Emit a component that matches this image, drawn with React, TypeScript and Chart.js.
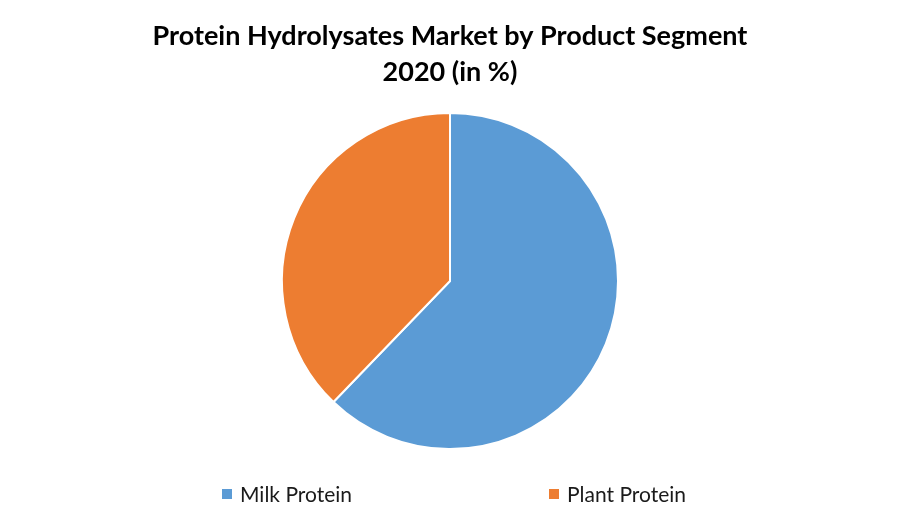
import React, { useEffect, useRef } from "react";
import { Chart, registerables } from "chart.js";

Chart.register(...registerables);

const titleLines = ["Protein Hydrolysates Market by Product Segment", "2020 (in %)"];
const categories = ["Milk Protein", "Plant Protein"];
const shares = [62.2, 37.8];
const colors = ["#5B9BD5", "#ED7D31"];

const FONT = "Lato, 'Open Sans', 'Liberation Sans', sans-serif";

export default function App() {
  const ref = useRef<HTMLCanvasElement | null>(null);

  useEffect(() => {
    if (!ref.current) return;
    const chart = new Chart(ref.current, {
      type: "pie",
      data: {
        labels: categories,
        datasets: [
          {
            data: shares,
            backgroundColor: colors,
            borderColor: "#ffffff",
            borderWidth: 2,
            hoverOffset: 0,
          },
        ],
      },
      options: {
        animation: false,
        responsive: false,
        events: [],
        layout: { padding: { top: 0, bottom: 75, left: 0, right: 0 } },
        plugins: {
          legend: { display: false },
          tooltip: { enabled: false },
          title: {
            display: true,
            text: titleLines,
            color: "#000000",
            font: { family: FONT, size: 27, weight: "bold", lineHeight: 1.333 },
            padding: { top: 18, bottom: 22 },
          },
        },
      },
    });
    return () => chart.destroy();
  }, []);

  return (
    <div
      style={{
        position: "fixed",
        left: 0,
        top: 0,
        width: 900,
        height: 525,
        background: "#ffffff",
        fontFamily: FONT,
      }}
    >
      <canvas ref={ref} width={900} height={525} style={{ display: "block" }} />
      {categories.map((c, i) => (
        <div
          key={c}
          style={{
            position: "absolute",
            top: 482,
            left: i === 0 ? 222 : 549,
            display: "flex",
            alignItems: "center",
            fontSize: 21,
            color: "#1a1a1a",
            lineHeight: "24px",
          }}
        >
          <span
            style={{
              display: "inline-block",
              width: 10,
              height: 10,
              background: colors[i],
              marginRight: 8,
            }}
          />
          <span>{c}</span>
        </div>
      ))}
    </div>
  );
}
